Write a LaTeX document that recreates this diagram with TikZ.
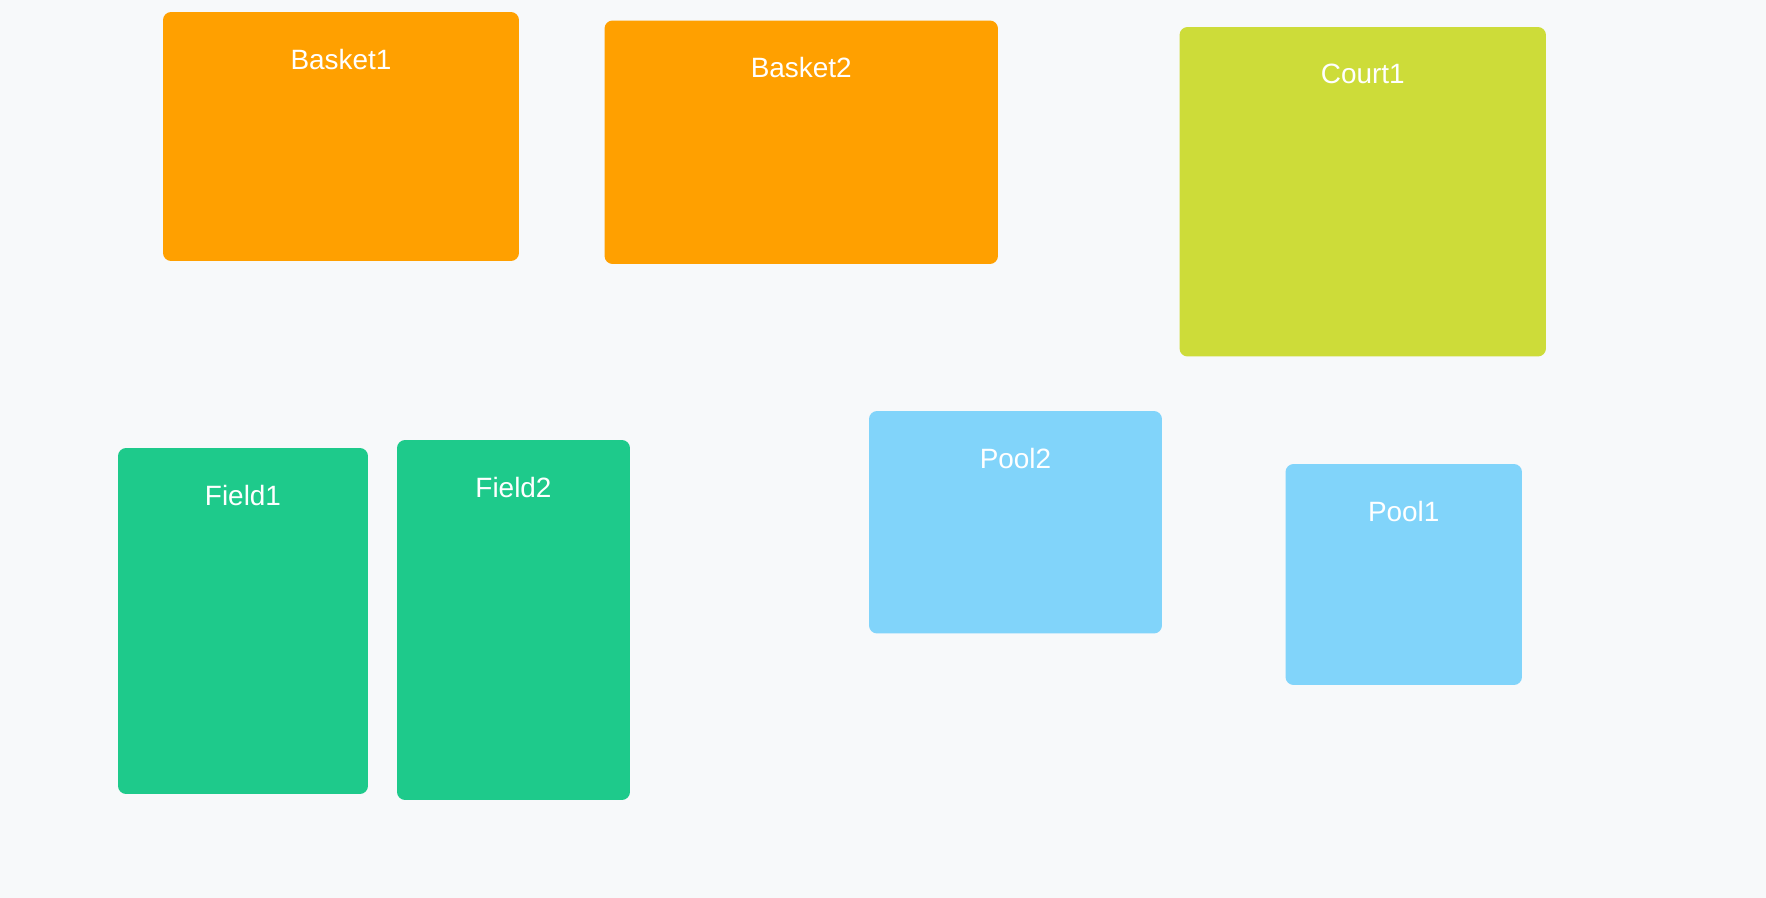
\documentclass[tikz,border=0pt]{standalone}
\usepackage{fontspec}
\setmainfont{Liberation Sans}
\usetikzlibrary{positioning}
\definecolor{bgcol}{HTML}{F7F9FA}
\definecolor{basketcol}{HTML}{FFA000}
\definecolor{courtcol}{HTML}{CDDC39}
\definecolor{fieldcol}{HTML}{1ECA8B}
\definecolor{poolcol}{HTML}{81D4FA}
\tikzset{
    node distance = 0.74cm,
    pitch/.style ={rectangle, rounded corners=0.16cm, fill=#1, inner sep=0pt},
    tag/.style = {text=white, inner sep=0pt, font=\fontsize{15.9}{19}\selectfont}
}

\begin{document}
\begin{tikzpicture}[x=0.02cm,y=-0.02cm]

    % background, also fixes the page size
    \fill[bgcol] (0,0) rectangle (1766,898);

    % top row
    \node[pitch=basketcol, minimum width=7.12cm, minimum height=4.98cm] (basket1) at (341,136.5) {};
    \node[pitch=basketcol, minimum width=7.87cm, minimum height=4.87cm] (basket2) at (801.25,142.25) {};
    \node[pitch=courtcol, minimum width=7.33cm, minimum height=6.59cm] (court1) at (1362.75,191.75) {};

    % bottom row
    \node[pitch=fieldcol, minimum width=5.0cm, minimum height=6.92cm] (field1) at (243,621) {};
    \node[pitch=fieldcol, minimum width=4.66cm, minimum height=7.2cm] (field2) at (513.5,620) {};
    \node[pitch=poolcol, minimum width=5.86cm, minimum height=4.45cm] (pool2) at (1015.5,522.25) {};
    \node[pitch=poolcol, minimum width=4.73cm, minimum height=4.42cm] (pool1) at (1403.75,574.5) {};

    % names hang from the top edges
    \node[tag] (basket1-t) [below = of basket1.north] {Basket1};
    \node[tag] (basket2-t) [below = of basket2.north] {Basket2};
    \node[tag] (court1-t) [below = of court1.north] {Court1};
    \node[tag] (field1-t) [below = of field1.north] {Field1};
    \node[tag] (field2-t) [below = of field2.north] {Field2};
    \node[tag] (pool2-t) [below = of pool2.north] {Pool2};
    \node[tag] (pool1-t) [below = of pool1.north] {Pool1};

\end{tikzpicture}
\end{document}
